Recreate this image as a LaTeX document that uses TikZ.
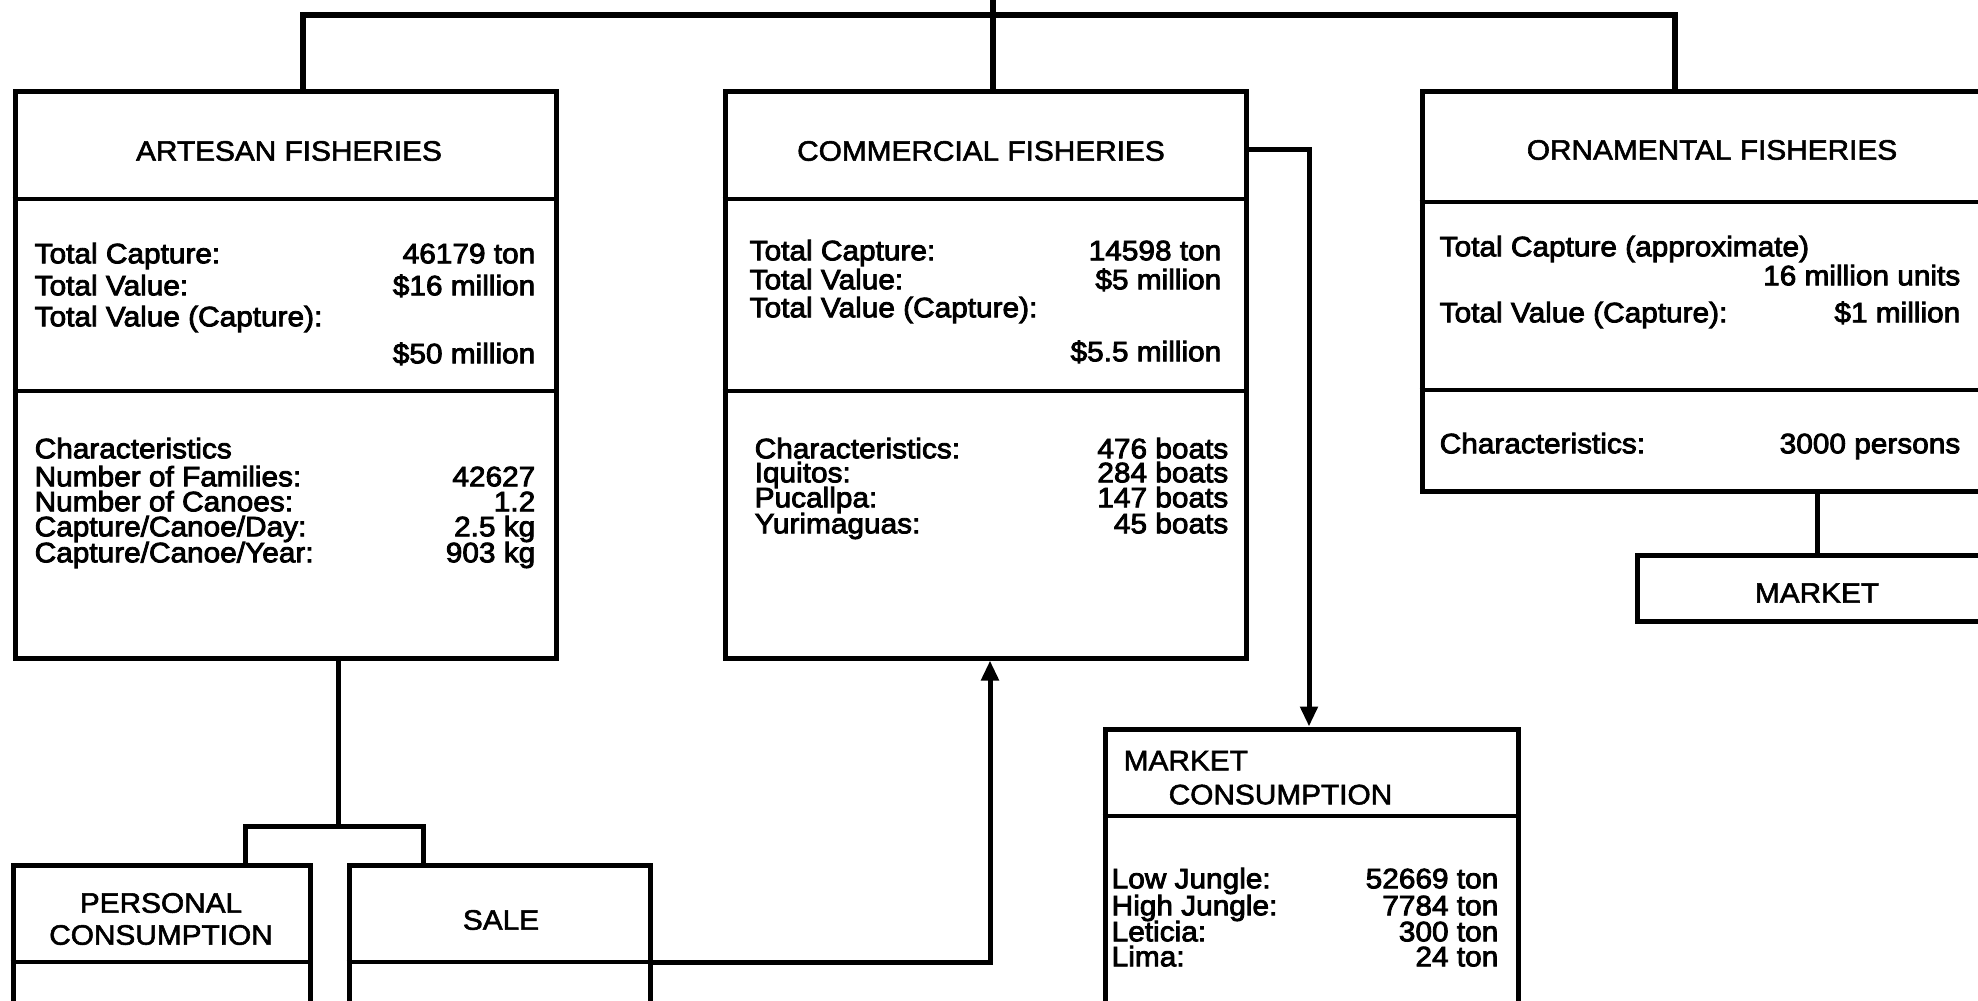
\documentclass[tikz,border=0pt]{standalone}
\usepackage{fontspec}
\setmainfont{Liberation Sans}[FakeStretch=1.06, FakeBold=3]
\newfontfamily\headfont{Liberation Sans}[FakeStretch=1.06, FakeBold=2]
\usetikzlibrary{arrows.meta,fit}
\begin{document}
\begin{tikzpicture}[x=0.1mm,y=-0.1mm,
  box/.style={draw, line width=0.5mm, inner sep=0pt, rectangle},
  rule/.style={line width=0.38mm},
  link/.style={line width=0.5mm},
  trunk/.style={line width=0.6mm},
  feed/.style={link, -{Triangle[width=1.7mm,length=2mm]}},
  txt/.style={inner sep=0pt, font=\fontsize{8pt}{9.1pt}\selectfont},
  title/.style={txt, align=center, font=\fontsize{8pt}{9.1pt}\headfont},
  lab/.style={txt, anchor=mid west},
  val/.style={txt, anchor=mid east}]
\useasboundingbox (0,0) rectangle (1978,1000);
\clip (0,0) rectangle (1978,1000);

% ---- boxes ----
\node[box, fit={(15,91) (556,658)}] (art) {};
\node[box, fit={(725,91) (1246,658)}] (com) {};
\node[box, fit={(1422,91) (2010,491)}] (orn) {};
\node[box, fit={(1637,555) (2010,621)}] (mkt) {};
\node[box, fit={(1105,729) (1518,1020)}] (mkc) {};
\node[box, fit={(13,865) (310,1020)}] (per) {};
\node[box, fit={(349,865) (650,1020)}] (sal) {};

% ---- section rules ----
\draw[rule] (art.west |- 0,199) -- (art.east |- 0,199);
\draw[rule] (art.west |- 0,391) -- (art.east |- 0,391);
\draw[rule] (com.west |- 0,199) -- (com.east |- 0,199);
\draw[rule] (com.west |- 0,391) -- (com.east |- 0,391);
\draw[rule] (orn.west |- 0,202) -- (orn.east |- 0,202);
\draw[rule] (orn.west |- 0,390) -- (orn.east |- 0,390);
\draw[rule] (mkc.west |- 0,816) -- (mkc.east |- 0,816);
\draw[rule] (per.west |- 0,962) -- (per.east |- 0,962);
\draw[rule] (sal.west |- 0,962) -- (sal.east |- 0,962);

% ---- titles ----
\node[title] (artT) at (289,151) {ARTESAN FISHERIES};
\node[title] (comT) at (981,151) {COMMERCIAL FISHERIES};
\node[title] (ornT) at (1712,150) {ORNAMENTAL FISHERIES};
\node[title] (mktT) at (1817,593) {MARKET};
\node[title, anchor=mid west] (mkcT1) at (1123,761) {MARKET};
\node[title, anchor=mid west] (mkcT2) at (1168,795) {CONSUMPTION};
\node[title] (perT) at (161,919) {PERSONAL\\CONSUMPTION};
\node[title] (salT) at (501,920) {SALE};

% ---- artesan fisheries ----
\node[lab] (a1) at (34,254) {Total Capture:};
\node[val] (a1v) at (536,254) {46179 ton};
\node[lab] (a2) at (34,286) {Total Value:};
\node[val] (a2v) at (536,286) {\$16 million};
\node[lab] (a3) at (34,317) {Total Value (Capture):};
\node[val] (a3v) at (536,354) {\$50 million};
\node[lab] (a4) at (34,449) {Characteristics};
\node[lab] (a5) at (34,477) {Number of Families:};
\node[val] (a5v) at (536,477) {42627};
\node[lab] (a6) at (34,502) {Number of Canoes:};
\node[val] (a6v) at (536,502) {1.2};
\node[lab] (a7) at (34,527) {Capture/Canoe/Day:};
\node[val] (a7v) at (536,527) {2.5 kg};
\node[lab] (a8) at (34,553) {Capture/Canoe/Year:};
\node[val] (a8v) at (536,553) {903 kg};

% ---- commercial fisheries ----
\node[lab] (c1) at (749,251) {Total Capture:};
\node[val] (c1v) at (1222,251) {14598 ton};
\node[lab] (c2) at (749,280) {Total Value:};
\node[val] (c2v) at (1222,280) {\$5 million};
\node[lab] (c3) at (749,308) {Total Value (Capture):};
\node[val] (c3v) at (1222,352) {\$5.5 million};
\node[lab] (c4) at (754,449) {Characteristics:};
\node[val] (c4v) at (1229,449) {476 boats};
\node[lab] (c5) at (754,473) {Iquitos:};
\node[val] (c5v) at (1229,473) {284 boats};
\node[lab] (c6) at (754,498) {Pucallpa:};
\node[val] (c6v) at (1229,498) {147 boats};
\node[lab] (c7) at (754,524) {Yurimaguas:};
\node[val] (c7v) at (1229,524) {45 boats};

% ---- ornamental fisheries ----
\node[lab] (o1) at (1439,247) {Total Capture (approximate)};
\node[val] (o1v) at (1961,276) {16 million units};
\node[lab] (o2) at (1439,313) {Total Value (Capture):};
\node[val] (o2v) at (1961,313) {\$1 million};
\node[lab] (o3) at (1439,444) {Characteristics:};
\node[val] (o3v) at (1961,444) {3000 persons};

% ---- market consumption ----
\node[lab] (m1) at (1111,879) {Low Jungle:};
\node[val] (m1v) at (1499,879) {52669 ton};
\node[lab] (m2) at (1111,906) {High Jungle:};
\node[val] (m2v) at (1499,906) {7784 ton};
\node[lab] (m3) at (1111,932) {Leticia:};
\node[val] (m3v) at (1499,932) {300 ton};
\node[lab] (m4) at (1111,957) {Lima:};
\node[val] (m4v) at (1499,957) {24 ton};

% ---- connectors ----
\coordinate (hubL) at (303,15);
\coordinate (hubR) at (1675,15);
\coordinate (hubT) at (993,-20);
\draw[trunk] (art.north -| hubL) -- (hubL) -- (hubR) -- (orn.north -| hubR);
\draw[trunk] (hubT) -- (com.north -| hubT);

\coordinate (split) at (338,826);
\coordinate (splitL) at (245,826);
\coordinate (splitR) at (423,826);
\draw[link] (art.south -| split) -- (split);
\draw[link] (per.north -| splitL) -- (splitL) -- (splitR) -- (sal.north -| splitR);

\coordinate (saleBend) at (990,962);
\draw[feed] (sal.east |- saleBend) -- (saleBend) -- (com.south -| saleBend);

\coordinate (mcBend) at (1309,149);
\draw[feed] (com.east |- mcBend) -- (mcBend) -- (mkc.north -| mcBend);

\coordinate (ornDrop) at (1817,0);
\draw[link] (orn.south -| ornDrop) -- (mkt.north -| ornDrop);
\end{tikzpicture}
\end{document}
